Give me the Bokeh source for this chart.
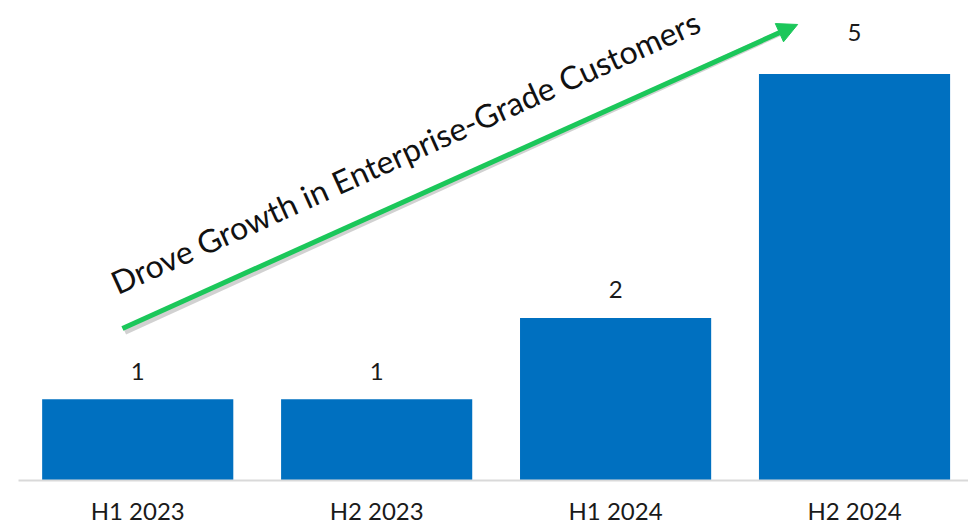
from bokeh.plotting import figure
from bokeh.models import Range1d, FixedTicker, Arrow, NormalHead, ColumnDataSource
from bokeh.core.properties import value
from bokeh.embed import file_html
from bokeh.resources import INLINE
import math

categories = ["H1 2023", "H2 2023", "H1 2024", "H2 2024"]
customers = [1, 1, 2, 5]
annotation_text = "Drove Growth in Enterprise-Grade Customers"

BAR_COLOR = "#0070C0"
GREEN = "#1BC75A"
FONT = "Lato"
# label offsets in screen pixels (style only)
LABEL_OFFSETS = [-28, -28, -28, -41]

xs = list(range(len(categories)))
src = ColumnDataSource(dict(x=xs, top=customers, label=[str(v) for v in customers],
                            yoff=LABEL_OFFSETS))

p = figure(width=968, height=527, output_backend="svg", toolbar_location=None,
           x_range=Range1d(-0.499, 3.477), y_range=Range1d(0, 5.904),
           min_border_left=18, min_border_right=0, min_border_top=0, min_border_bottom=47)
p.outline_line_color = None
p.grid.visible = False
p.yaxis.visible = False

p.vbar(x="x", top="top", width=0.8, source=src, fill_color=BAR_COLOR, line_color=None)

p.text(x="x", y="top", text="label", source=src, text_align="center",
       text_baseline="alphabetic", y_offset="yoff", text_font=value(FONT),
       text_font_size="24px", text_color="#1A1A1A")

ax = p.xaxis[0]
ax.ticker = FixedTicker(ticks=xs)
ax.major_label_overrides = {i: c for i, c in enumerate(categories)}
ax.major_tick_line_color = None
ax.minor_tick_line_color = None
ax.axis_line_color = "#D9D9D9"
ax.axis_line_width = 2
ax.major_label_text_font = FONT
ax.major_label_text_font_size = "24px"
ax.major_label_text_color = "#1A1A1A"
ax.major_label_standoff = 9

# trend arrow
x0, y0, x1, y1 = -0.064, 1.870, 2.762, 5.609
# soft shadow
p.line(x=[x0 + 0.01, x1 - 0.04], y=[y0 - 0.04, y1 - 0.06], line_color="#000000",
       line_alpha=0.18, line_width=6)
p.add_layout(Arrow(x_start=x0, y_start=y0, x_end=x1, y_end=y1, line_color=GREEN, line_width=5,
                   end=NormalHead(size=20, fill_color=GREEN, line_color=GREEN)))

p.text(x=[-0.105], y=[2.42], text=[annotation_text], angle=math.radians(24.3),
       text_align="left", text_baseline="alphabetic", text_font=value(FONT),
       text_font_size="32px", text_color="#111111")

open("out.html", "w").write(file_html(p, INLINE))
